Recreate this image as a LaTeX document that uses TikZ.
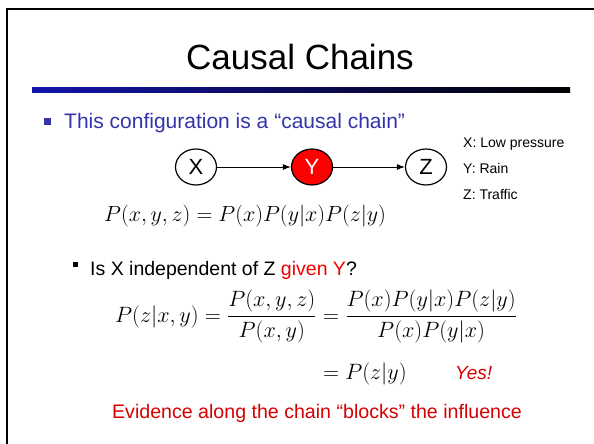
\documentclass[tikz,border=0pt]{standalone}
\usepackage{amsmath}
\usepackage{graphicx}
\usepackage{fontspec}
\setmainfont{Liberation Sans}
\usetikzlibrary{arrows.meta,shapes.geometric,calc}
\definecolor{slideblue}{RGB}{51,51,170}
\definecolor{barblue}{RGB}{20,20,170}
\definecolor{slidered}{RGB}{215,0,0}
\definecolor{brightred}{RGB}{240,0,0}
\newcommand{\mathscaled}[1]{\scalebox{1.06}{#1}}
\newcommand{\derivscaled}[1]{\scalebox{1.07}{#1}}
\begin{document}
\begin{tikzpicture}[x=1pt,y=-1pt,
  varnode/.style={draw=black, line width=1.2pt, ellipse, minimum width=41pt, minimum height=36pt, inner sep=0pt, font=\fontsize{22}{25}\selectfont},
  legend/.style={anchor=base west, inner sep=0pt, font=\fontsize{14}{16}\selectfont},
  mathtxt/.style={anchor=base west, inner sep=0pt, font=\fontsize{20.74}{25}\selectfont},
  link/.style={line width=1pt, -{Latex[length=8pt,width=6pt]}}
]
\useasboundingbox (0,0) rectangle (594,444);
% frame
\draw[line width=2pt] (7,444) -- (7,9) -- (594,9);
% title
\node[anchor=base, inner sep=0pt, font=\fontsize{35}{40}\selectfont] (title) at (300,70) {Causal Chains};
\shade[left color=barblue, right color=black] (32,87) rectangle (570,92);
% bullet
\fill[slideblue] (44,118) rectangle (51,125);
\node[anchor=base west, inner sep=0pt, text=slideblue, font=\fontsize{21}{24}\selectfont] (b1) at (64,128) {This configuration is a “causal chain”};
% graph
\node[varnode] (X) at (196,167) {X};
\node[varnode, fill=red, text=white] (Y) at (312,167) {Y};
\node[varnode] (Z) at (426,167) {Z};
\draw[link] (X) -- (Y);
\draw[link] (Y) -- (Z);
% legend
\node[legend] (lx) at (463,147) {X: Low pressure};
\node[legend] (ly) at (463,173) {Y: Rain};
\node[legend] (lz) at (463,199) {Z: Traffic};
% joint
\node[mathtxt] (joint) at (104,221) {\mathscaled{$P(x,y,z) = P(x)P(y|x)P(z|y)$}};
% sub bullet
\fill[black] (73,262) rectangle (78,267);
\node[anchor=base west, inner sep=0pt, font=\fontsize{19.5}{22}\selectfont] (q) at (90,275) {Is X independent of Z \textcolor{brightred}{given Y}?};
% derivation
\node[mathtxt] (lhs) at (115,322) {\derivscaled{$\displaystyle P(z|x,y) = \frac{P(x,y,z)}{P(x,y)}$}};
\node[mathtxt] (rhs) at (lhs.base east) {\derivscaled{$\displaystyle {}= \frac{P(x)P(y|x)P(z|y)}{P(x)P(y|x)}$}};
\node[mathtxt] (res) at ($(rhs.base west)+(0,57)$) {\derivscaled{$\displaystyle {}= P(z|y)$}};
\node[anchor=base west, inner sep=0pt, text=slidered, font=\fontsize{19}{22}\selectfont\itshape] (yes) at (455,379) {Yes!};
% conclusion
\node[anchor=base, inner sep=0pt, text=slidered, font=\fontsize{19.6}{22}\selectfont] (concl) at (317,418) {Evidence along the chain “blocks” the influence};
\end{tikzpicture}
\end{document}
